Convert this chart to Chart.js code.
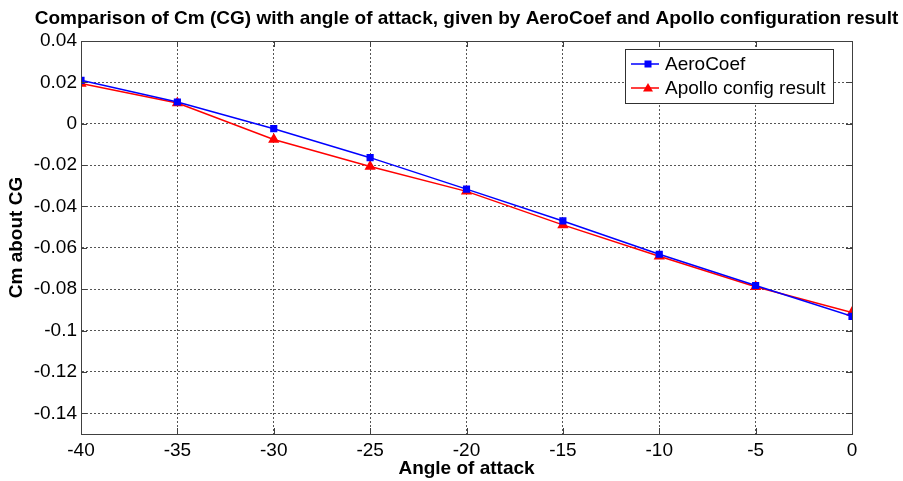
<!DOCTYPE html>
<html lang="en">
<head>
  <meta charset="UTF-8" />
  <title>Cm about CG vs angle of attack</title>
  <script src="https://cdn.jsdelivr.net/npm/chart.js"></script>
  <style>
    html, body { margin: 0; padding: 0; background: #fff; }
    #wrap { width: 903px; height: 481px; }
  </style>
</head>
<body>
  <div id="wrap"><canvas id="cmChart" width="903" height="481"></canvas></div>

  <script>
    // data
    const angles = [-40, -35, -30, -25, -20, -15, -10, -5, 0];
    const aeroCoef = [0.0210, 0.0105, -0.0024, -0.0164, -0.0316, -0.0470, -0.0631, -0.0782, -0.0931];
    const apolloResult = [0.0194, 0.0100, -0.0076, -0.0207, -0.0327, -0.0489, -0.0641, -0.0788, -0.0913];
    const xTicks = [-40, -35, -30, -25, -20, -15, -10, -5, 0];
    const yTicks = [0.04, 0.02, 0, -0.02, -0.04, -0.06, -0.08, -0.1, -0.12, -0.14];

    const seriesNames = ['AeroCoef', 'Apollo config result'];
    const titleText = 'Comparison of Cm (CG) with angle of attack, given by AeroCoef and Apollo configuration result';
    const FONT = 'Arial, "Liberation Sans", sans-serif';

    function fmtY(v) {
      if (Math.abs(v) < 1e-9) return '0';
      return String(Math.round(v * 100) / 100);
    }

    // title, box frame, inward ticks and legend, matlab style
    const matlabDecor = {
      id: 'matlabDecor',
      afterDraw(chart) {
        const { ctx, chartArea: a, scales } = chart;
        ctx.save();

        // frame
        ctx.strokeStyle = '#404040';
        ctx.lineWidth = 1;
        ctx.setLineDash([]);
        ctx.strokeRect(Math.round(a.left) + 0.5, Math.round(a.top) + 0.5,
          Math.round(a.right - a.left), Math.round(a.bottom - a.top));

        // inward tick marks
        ctx.beginPath();
        xTicks.forEach(t => {
          const x = Math.round(scales.x.getPixelForValue(t)) + 0.5;
          ctx.moveTo(x, a.bottom); ctx.lineTo(x, a.bottom - 6);
          ctx.moveTo(x, a.top); ctx.lineTo(x, a.top + 6);
        });
        yTicks.forEach(t => {
          const y = Math.round(scales.y.getPixelForValue(t)) + 0.5;
          ctx.moveTo(a.left, y); ctx.lineTo(a.left + 6, y);
          ctx.moveTo(a.right, y); ctx.lineTo(a.right - 6, y);
        });
        ctx.stroke();

        // title
        ctx.fillStyle = '#000';
        ctx.font = 'bold 19px ' + FONT;
        ctx.textAlign = 'center';
        ctx.textBaseline = 'middle';
        ctx.fillText(titleText, (a.left + a.right) / 2, 19);

        // legend box
        const bx = 625, by = 49, bw = 208, bh = 54;
        ctx.fillStyle = '#fff';
        ctx.fillRect(bx, by, bw, bh);
        ctx.strokeStyle = '#303030';
        ctx.strokeRect(bx + 0.5, by + 0.5, bw, bh);
        ctx.font = '19px ' + FONT;
        ctx.textAlign = 'left';
        chart.data.datasets.forEach((ds, i) => {
          const cy = by + 15 + i * 24;
          ctx.strokeStyle = ds.borderColor;
          ctx.lineWidth = 1.5;
          ctx.beginPath();
          ctx.moveTo(bx + 6, cy); ctx.lineTo(bx + 34, cy);
          ctx.stroke();
          ctx.fillStyle = ds.borderColor;
          const mx = bx + 23;
          if (ds.pointStyle === 'rect') {
            ctx.fillRect(mx - 3.5, cy - 3.5, 7, 7);
          } else {
            ctx.beginPath();
            ctx.moveTo(mx, cy - 5); ctx.lineTo(mx + 5, cy + 3.5); ctx.lineTo(mx - 5, cy + 3.5);
            ctx.closePath(); ctx.fill();
          }
          ctx.fillStyle = '#000';
          ctx.fillText(ds.label, bx + 40, cy + 1);
        });

        ctx.restore();
      }
    };

    const gridStyle = {
      color: '#555',
      lineWidth: 1,
      drawTicks: false
    };

    new Chart(document.getElementById('cmChart').getContext('2d'), {
      type: 'line',
      data: {
        labels: angles,
        datasets: [
          {
            label: seriesNames[0],
            data: angles.map((a, i) => ({ x: a, y: aeroCoef[i] })),
            borderColor: '#0000ff',
            backgroundColor: '#0000ff',
            borderWidth: 1.5,
            pointStyle: 'rect',
            pointRadius: 4,
            tension: 0
          },
          {
            label: seriesNames[1],
            data: angles.map((a, i) => ({ x: a, y: apolloResult[i] })),
            borderColor: '#ff0000',
            backgroundColor: '#ff0000',
            borderWidth: 1.5,
            pointStyle: 'triangle',
            pointRadius: 5,
            tension: 0
          }
        ]
      },
      options: {
        responsive: false,
        animation: false,
        layout: { padding: { left: 0, top: 41, right: 51, bottom: 0 } },
        plugins: {
          legend: { display: false },
          title: { display: false },
          tooltip: { enabled: false }
        },
        scales: {
          x: {
            type: 'linear',
            min: -40,
            max: 0,
            afterBuildTicks: axis => { axis.ticks = xTicks.map(v => ({ value: v })); },
            afterFit: axis => { axis.height = 47; },
            grid: gridStyle,
            border: { display: true, color: '#404040', dash: [2, 2] },
            ticks: {
              padding: 5,
              color: '#000',
              font: { family: FONT, size: 19 },
              maxRotation: 0,
              callback: v => String(v)
            },
            title: {
              display: true,
              text: 'Angle of attack',
              color: '#000',
              font: { family: FONT, size: 19, weight: 'bold' },
              padding: { top: 0, bottom: 1 }
            }
          },
          y: {
            type: 'linear',
            min: -0.15,
            max: 0.04,
            afterBuildTicks: axis => { axis.ticks = yTicks.map(v => ({ value: v })); },
            afterFit: axis => { axis.width = 81; },
            grid: gridStyle,
            border: { display: true, color: '#404040', dash: [2, 2] },
            ticks: {
              padding: 4,
              color: '#000',
              font: { family: FONT, size: 19 },
              callback: v => fmtY(v)
            },
            title: {
              display: true,
              text: 'Cm about CG',
              color: '#000',
              font: { family: FONT, size: 19, weight: 'bold' },
              padding: { top: 5, bottom: 0 }
            }
          }
        }
      },
      plugins: [matlabDecor]
    });
  </script>
</body>
</html>
